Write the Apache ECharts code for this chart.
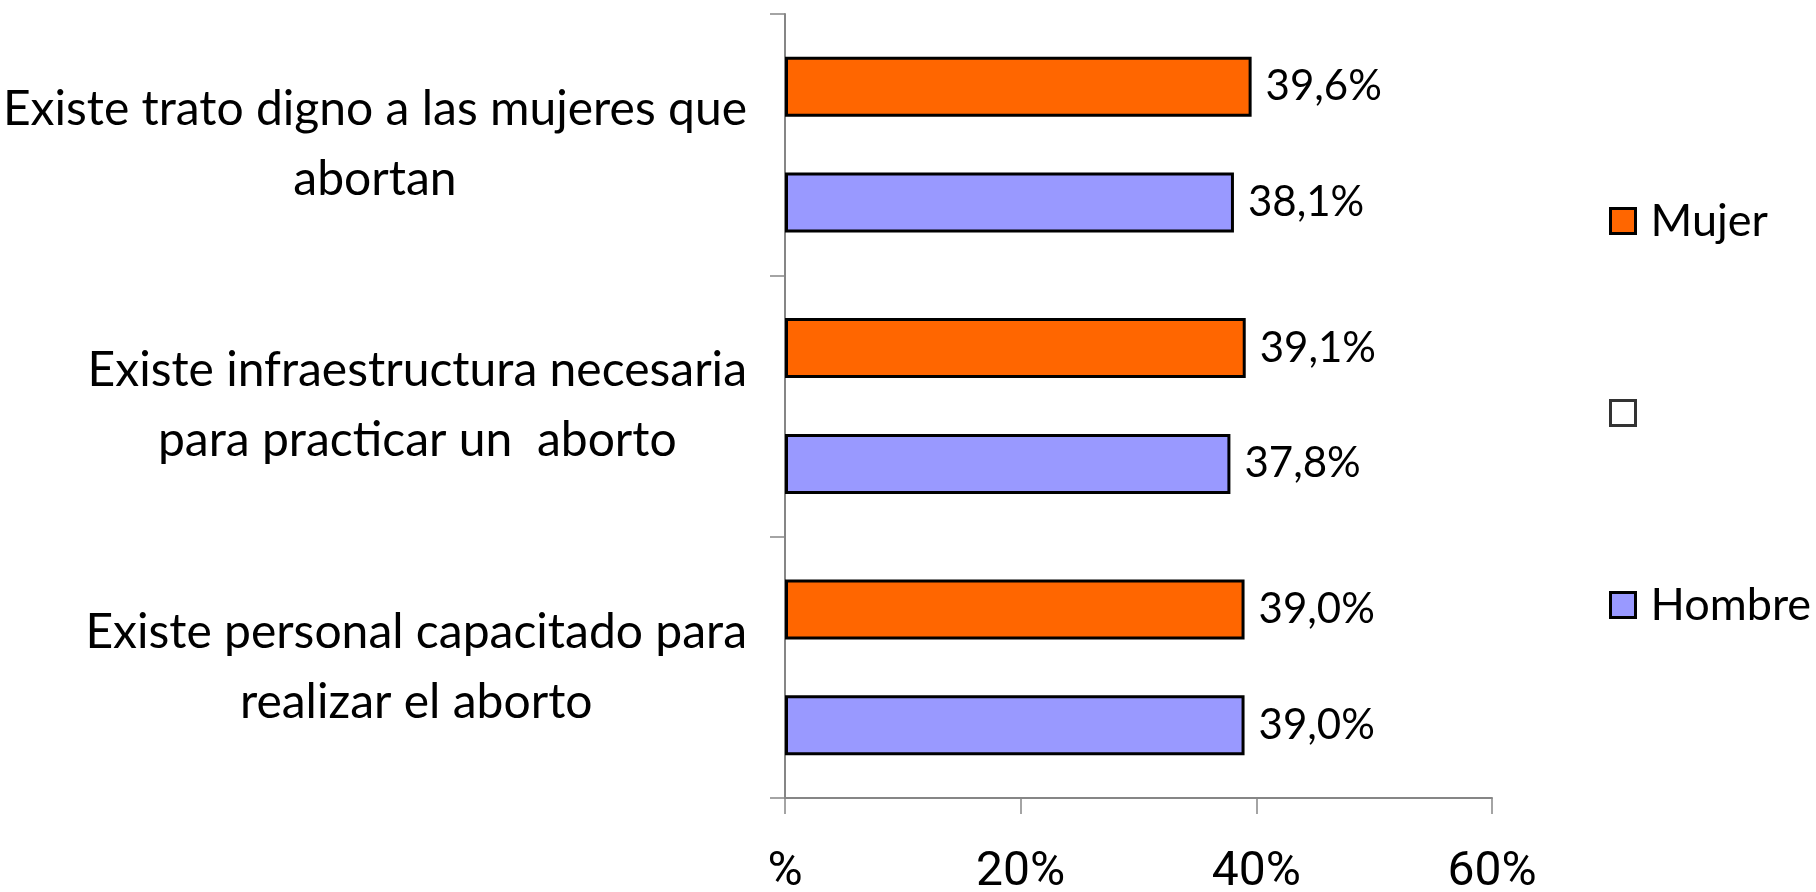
<!DOCTYPE html>
<html>
<head>
<meta charset="utf-8">
<script src="https://cdn.jsdelivr.net/npm/echarts@6/dist/echarts.min.js"></script>
<style>
  html, body { margin: 0; padding: 0; background: #fff; }
  #chart { width: 1816px; height: 892px; }
</style>
</head>
<body>
<div id="chart"></div>
<script>
  // datos
  const categories = [
    "Existe trato digno a las mujeres que\nabortan",
    "Existe infraestructura necesaria\npara practicar un  aborto",
    "Existe personal capacitado para\nrealizar el aborto"
  ];
  const mujer = [39.6, 39.1, 39.0];
  const hombre = [38.1, 37.8, 39.0];
  const xTicks = [0, 20, 40, 60];

  const labelFont = "Lato, 'Open Sans', sans-serif";
  const axisColor = "#868686";

  const chart = echarts.init(document.getElementById("chart"));

  const pct = (v) => v.toFixed(1).replace(".", ",") + "%";

  const option = {
    animation: false,
    backgroundColor: "#fff",
    grid: { left: 785, top: 14, right: 324, bottom: 94, containLabel: false, outerBoundsMode: "none" },
    legend: {
      orient: "vertical",
      left: 1604,
      top: 190,
      icon: "rect",
      itemWidth: 25,
      itemHeight: 25,
      itemGap: 152,
      data: [
        { name: "Mujer", itemStyle: { color: "#FF6600", borderColor: "#000", borderWidth: 3 } },
        { name: "_", itemStyle: { color: "#fff", borderColor: "#000", borderWidth: 3 } },
        { name: "Hombre", itemStyle: { color: "#9999FF", borderColor: "#000", borderWidth: 3 } }
      ],
      formatter: (name) => (name === "_" ? "" : name),
      textStyle: { fontFamily: labelFont, fontSize: 45, color: "#000", lineHeight: 52, padding: [0, 0, 0, 10] }
    },
    xAxis: {
      type: "value",
      min: 0,
      max: 60,
      interval: 20,
      splitLine: { show: false },
      axisLine: { show: true, lineStyle: { color: axisColor, width: 2 } },
      axisTick: { show: true, length: 16, lineStyle: { color: axisColor, width: 1.5 } },
      axisLabel: {
        margin: 51,
        fontFamily: "Roboto, 'Liberation Sans', sans-serif",
        fontSize: 48,
        color: "#000",
        customValues: xTicks,
        formatter: (v) => (v === 0 ? "%" : v + "%")
      }
    },
    yAxis: {
      type: "category",
      inverse: true,
      data: categories,
      axisLine: { show: true, lineStyle: { color: axisColor, width: 2 } },
      axisTick: { show: true, length: 15, lineStyle: { color: axisColor, width: 1.5 } },
      axisLabel: {
        margin: 38,
        align: "right",
        color: "#000",
        formatter: (v) => v.split("\n").map((l) => "{c|" + l + "}").join("\n"),
        rich: {
          c: { align: "center", fontFamily: labelFont, fontSize: 48, lineHeight: 70, color: "#000" }
        }
      }
    },
    series: [
      {
        name: "Mujer",
        type: "bar",
        data: mujer,
        barWidth: 60,
        barGap: "93%",
        itemStyle: { color: "#FF6600", borderColor: "#000", borderWidth: 3 },
        label: {
          show: true,
          position: "right",
          distance: 14,
          fontFamily: labelFont,
          fontSize: 42,
          color: "#000",
          formatter: (p) => pct(p.value)
        }
      },
      {
        name: "Hombre",
        type: "bar",
        data: hombre,
        barWidth: 60,
        barGap: "93%",
        itemStyle: { color: "#9999FF", borderColor: "#000", borderWidth: 3 },
        label: {
          show: true,
          position: "right",
          distance: 14,
          fontFamily: labelFont,
          fontSize: 42,
          color: "#000",
          formatter: (p) => pct(p.value)
        }
      },
      {
        name: "_",
        type: "scatter",
        data: []
      }
    ]
  };

  chart.setOption(option);
</script>
</body>
</html>
